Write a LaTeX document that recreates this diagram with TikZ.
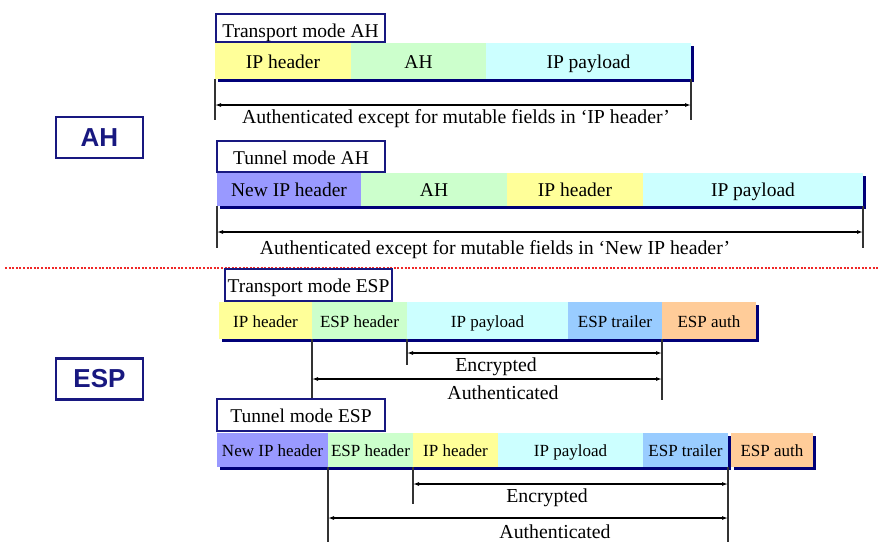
\documentclass[tikz,border=0pt]{standalone}
\usepackage{fontspec}
\setmainfont{Liberation Serif}
\setsansfont{Liberation Sans}
\usetikzlibrary{arrows.meta,backgrounds}

\definecolor{hdryellow}{HTML}{FFFF99}
\definecolor{hdrgreen}{HTML}{CCFFCC}
\definecolor{hdrcyan}{HTML}{CCFFFF}
\definecolor{hdrpurple}{HTML}{9999FF}
\definecolor{hdrblue}{HTML}{99CCFF}
\definecolor{hdrorange}{HTML}{FFCC99}
\definecolor{boxnavy}{RGB}{24,24,128}
\definecolor{shadownavy}{RGB}{0,0,120}
\definecolor{dotred}{RGB}{240,40,40}

\tikzset{
  cell/.style={anchor=north west, inner sep=0pt, outer sep=0pt, text=black, text depth=0pt},
  ahcell/.style={cell, text height=14pt, font=\fontsize{19.5}{22}\selectfont},
  espcell/.style={cell, text height=13pt, font=\fontsize{17}{20}\selectfont},
  modebox/.style={draw=boxnavy, line width=2pt, fill=white, anchor=north west,
    inner sep=0pt, outer sep=0pt, text height=15pt, text depth=0pt,
    font=\fontsize{19.5}{22}\selectfont},
  protobox/.style={draw=boxnavy, line width=2.5pt, fill=white, inner sep=0pt,
    minimum width=87pt, minimum height=41pt, text=boxnavy,
    font=\sffamily\bfseries\fontsize{26}{28}\selectfont},
  shadowfill/.style={fill=shadownavy},
  guideline/.style={draw=black!80, line width=1.1pt},
  spanarrow/.style={draw=black, line width=1.1pt,
    {Latex[length=6pt,width=4pt]}-{Latex[length=6pt,width=4pt]}},
  spantext/.style={anchor=base, inner sep=0pt, font=\fontsize{19.8}{22}\selectfont},
  divider/.style={draw=dotred, line width=2pt, dash pattern=on 2pt off 1.6pt},
}

\begin{document}
\begin{tikzpicture}[x=1pt,y=-1pt]
\useasboundingbox (0,0) rectangle (878,542);

% separator between the AH and ESP halves
\coordinate (sepL) at (5,268);
\coordinate (sepR) at (878,268);
\draw[divider] (sepL) -- (sepR);

% protocol labels
\node[protobox] (ahlbl) at (99.5,137.5) {AH};
\node[protobox] (esplbl) at (99.5,379) {ESP};

% ---------- AH, transport mode ----------
\node[ahcell, fill=hdryellow, minimum width=136pt, minimum height=36pt] (t1) at (215,43) {IP header};
\node[ahcell, fill=hdrgreen,  minimum width=135pt, minimum height=36pt] (t2) at (351,43) {AH};
\node[ahcell, fill=hdrcyan,   minimum width=205pt, minimum height=36pt] (t3) at (486,43) {IP payload};
\node[modebox, text height=19pt, minimum width=169pt, minimum height=28pt] (tmode) at (216,14) {Transport mode AH};

\coordinate (tLa) at (215,105);
\coordinate (tLb) at (215,120);
\coordinate (tRa) at (691,105);
\coordinate (tRb) at (691,120);
\draw[guideline] (t1.south west) -- (tLb);
\draw[guideline] (t3.south east) -- (tRb);
\draw[spanarrow] (tLa) -- (tRa);
\node[spantext] (tnote) at (456,123) {Authenticated except for mutable fields in ‘IP header’};

% ---------- AH, tunnel mode ----------
\node[ahcell, fill=hdrpurple, minimum width=144pt, minimum height=33pt] (u1) at (217,173) {New IP header};
\node[ahcell, fill=hdrgreen,  minimum width=146pt, minimum height=33pt] (u2) at (361,173) {AH};
\node[ahcell, fill=hdryellow, minimum width=136pt, minimum height=33pt] (u3) at (507,173) {IP header};
\node[ahcell, fill=hdrcyan,   minimum width=220pt, minimum height=33pt] (u4) at (643,173) {IP payload};
\node[modebox, minimum width=168pt, minimum height=31pt] (umode) at (217,141) {Tunnel mode AH};

\coordinate (uLa) at (217,232);
\coordinate (uLb) at (217,248);
\coordinate (uRa) at (863,232);
\coordinate (uRb) at (863,248);
\draw[guideline] (u1.south west) -- (uLb);
\draw[guideline] (u4.south east) -- (uRb);
\draw[spanarrow] (uLa) -- (uRa);
\node[spantext] (unote) at (495,254) {Authenticated except for mutable fields in ‘New IP header’};

% ---------- ESP, transport mode ----------
\node[espcell, fill=hdryellow, minimum width=93pt,  minimum height=37pt] (e1) at (219,302) {IP header};
\node[espcell, fill=hdrgreen,  minimum width=95pt,  minimum height=37pt] (e2) at (312,302) {ESP header};
\node[espcell, fill=hdrcyan,   minimum width=161pt, minimum height=37pt] (e3) at (407,302) {IP payload};
\node[espcell, fill=hdrblue,   minimum width=94pt,  minimum height=37pt] (e4) at (568,302) {ESP trailer};
\node[espcell, fill=hdrorange, minimum width=94pt,  minimum height=37pt] (e5) at (662,302) {ESP auth};
\node[modebox, minimum width=167pt, minimum height=32pt] (emode) at (225,269) {Transport mode ESP};

\coordinate (eAb) at (312,400);
\coordinate (eEb) at (407,365);
\coordinate (eRb) at (662,400);
\coordinate (eEl) at (407,353);
\coordinate (eEr) at (662,353);
\coordinate (eAl) at (312,379);
\coordinate (eAr) at (662,379);
\draw[guideline] (e2.south west) -- (eAb);
\draw[guideline] (e3.south west) -- (eEb);
\draw[guideline] (e4.south east) -- (eRb);
\draw[spanarrow] (eEl) -- (eEr);
\draw[spanarrow] (eAl) -- (eAr);
\node[spantext] (eenc) at (496,371) {Encrypted};
\node[spantext] (eauth) at (503,399) {Authenticated};

% ---------- ESP, tunnel mode ----------
\node[espcell, fill=hdrpurple, minimum width=111pt, minimum height=34pt] (f1) at (217,433) {New IP header};
\node[espcell, fill=hdrgreen,  minimum width=85pt,  minimum height=34pt] (f2) at (328,433) {ESP header};
\node[espcell, fill=hdryellow, minimum width=85pt,  minimum height=34pt] (f3) at (413,433) {IP header};
\node[espcell, fill=hdrcyan,   minimum width=145pt, minimum height=34pt] (f4) at (498,433) {IP payload};
\node[espcell, fill=hdrblue,   minimum width=85pt,  minimum height=34pt] (f5) at (643,433) {ESP trailer};
\node[espcell, fill=hdrorange, minimum width=82pt,  minimum height=34pt] (f6) at (731,433) {ESP auth};
\node[modebox, minimum width=168pt, minimum height=32pt] (fmode) at (217,399) {Tunnel mode ESP};

\coordinate (fAb) at (328,542);
\coordinate (fEb) at (413,504);
\coordinate (fRb) at (728,542);
\coordinate (fEl) at (413,484);
\coordinate (fEr) at (728,484);
\coordinate (fAl) at (328,518);
\coordinate (fAr) at (728,518);
\draw[guideline] (f2.south west) -- (fAb);
\draw[guideline] (f3.south west) -- (fEb);
\draw[guideline] (f5.south east) -- (fRb);
\draw[spanarrow] (fEl) -- (fEr);
\draw[spanarrow] (fAl) -- (fAr);
\node[spantext] (fenc) at (547,502) {Encrypted};
\node[spantext] (fauth) at (555,538) {Authenticated};

% white page and drop shadows under the packet rows
\begin{pgfonlayer}{background}
  \fill[white] (0,0) rectangle (878,542);
  \fill[shadowfill] ([shift={(3,3)}]t1.north west) rectangle ([shift={(3,3)}]t3.south east);
  \fill[shadowfill] ([shift={(3,3)}]u1.north west) rectangle ([shift={(3,3)}]u4.south east);
  \fill[shadowfill] ([shift={(3,3)}]e1.north west) rectangle ([shift={(3,3)}]e5.south east);
  \fill[shadowfill] ([shift={(3,3)}]f1.north west) rectangle ([shift={(3,3)}]f5.south east);
  \fill[shadowfill] ([shift={(3,3)}]f6.north west) rectangle ([shift={(3,3)}]f6.south east);
\end{pgfonlayer}
\end{tikzpicture}
\end{document}
